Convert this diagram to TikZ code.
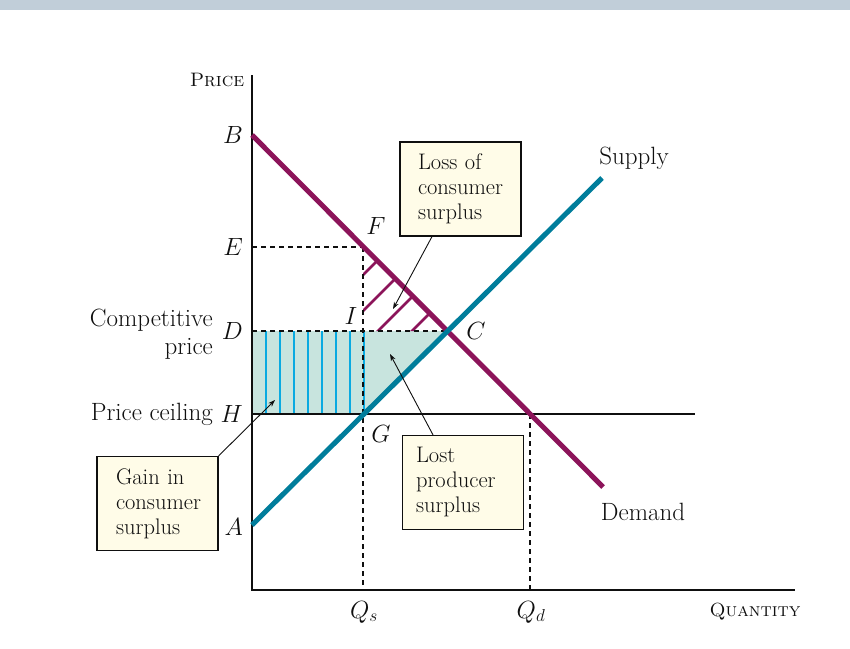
\documentclass[tikz,border=0pt]{standalone}
\usepackage{fontspec}
\usetikzlibrary{arrows.meta}
\definecolor{demandc}{RGB}{140,20,90}
\definecolor{supplyc}{RGB}{0,125,155}
\definecolor{stripec}{RGB}{10,170,225}
\definecolor{fillc}{RGB}{200,228,222}
\definecolor{boxfill}{RGB}{255,252,232}
\definecolor{bandc}{RGB}{193,206,217}
\definecolor{inkc}{RGB}{15,15,15}
\begin{document}
\begin{tikzpicture}[x=1pt,y=-1pt,
  lbl/.style={text=inkc,font=\fontsize{25}{28}\selectfont,inner sep=0pt},
  boxed/.style={draw=inkc,line width=1.2pt,fill=boxfill,minimum width=121pt,minimum height=94pt,
     align=left,inner sep=0pt,text=inkc,font=\fontsize{22.5}{25}\selectfont},
  guide/.style={dashed,dash pattern=on 5pt off 4pt,line width=1.1pt,draw=inkc},
  pointer/.style={draw=inkc,line width=0.9pt,-{Stealth[length=7pt,width=5pt]}},
  axisline/.style={draw=inkc,line width=1.3pt}]
\useasboundingbox (0,0) rectangle (850,648);
\fill[bandc] (0,0) rectangle (850,10);
% key points
\coordinate (B) at (252,135);
\coordinate (Dend) at (603,487);
\coordinate (A) at (252,525);
\coordinate (Send) at (602,178);
\coordinate (E) at (252,247);
\coordinate (F) at (363,247);
\coordinate (D) at (252,331);
\coordinate (I) at (363,331);
\coordinate (C) at (447,331);
\coordinate (H) at (252,414);
\coordinate (G) at (363,414);
\coordinate (Qs) at (363,590);
\coordinate (Qd) at (530,590);
\coordinate (Qdc) at (530,414);
\coordinate (ceilEnd) at (695,414);
\coordinate (O) at (252,590);
\coordinate (ytop) at (252,75);
\coordinate (xend) at (795,590);
% shaded areas
\fill[fillc] (D) rectangle (G);
\fill[fillc] (I) -- (C) -- (G) -- cycle;
\foreach \x in {266,280,...,364} \draw[stripec,line width=2pt] (\x,331) -- (\x,414);
% hatch in lost consumer surplus triangle
\begin{scope}
\clip (F) -- (I) -- (C) -- cycle;
\foreach \k in {638,674,709,743} \draw[demandc,line width=2.5pt] (300,\k-300) -- (500,\k-500);
\end{scope}
% guides
\draw[guide] (E) -- (F);
\draw[guide] (F) -- (Qs);
\draw[guide] (D) -- (C);
\draw[guide] (Qdc) -- (Qd);
\draw[draw=inkc,line width=1.2pt] (H) -- (ceilEnd);
% axes
\draw[axisline] (ytop) -- (O) -- (xend);
% curves
\draw[demandc,line width=5pt] (B) -- (Dend);
\draw[supplyc,line width=5pt] (A) -- (Send);
% labels
\node[lbl] (lprice) at (217,80) {\fontsize{19.5}{22}\selectfont\textsc{Price}};
\node[lbl] (lqty) at (755,612) {\fontsize{19}{22}\selectfont\textsc{Quantity}};
\node[lbl,anchor=east] (lB) at (243,135) {$B$};
\node[lbl,anchor=east] (lE) at (243,247) {$E$};
\node[lbl,anchor=east] (lD) at (243,331) {$D$};
\node[lbl,anchor=east] (lH) at (243,414) {$H$};
\node[lbl,anchor=east] (lA) at (243,527) {$A$};
\node[lbl] (lF) at (376,226) {$F$};
\node[lbl] (lI) at (351,316) {$I$};
\node[lbl] (lC) at (476,331) {$C$};
\node[lbl] (lG) at (381,434) {$G$};
\node[lbl,font=\fontsize{23}{26}\selectfont] (lQs) at (364,612) {$Q_s$};
\node[lbl,font=\fontsize{23}{26}\selectfont] (lQd) at (531,612) {$Q_d$};
\node[lbl,anchor=east,align=right] (lcomp) at (213,334) {Competitive\\price};
\node[lbl,anchor=east] (lceil) at (213,414) {Price ceiling};
\node[lbl] (lsup) at (634,158) {Supply};
\node[lbl] (ldem) at (643,512) {Demand};
% boxes
\node[boxed,text width=85pt] (loss) at (460.5,189) {Loss of\\consumer\\surplus};
\node[boxed,text width=94pt] (prod) at (463,482.5) {Lost\\producer\\surplus};
\node[boxed,text width=83pt] (gain) at (157.5,503.5) {Gain in\\consumer\\surplus};
\coordinate (lossTip) at (393,309);
\coordinate (prodTip) at (390,354);
\coordinate (gainTip) at (275,400);
\draw[pointer] ([xshift=-28.5pt]loss.south) -- (lossTip);
\draw[pointer] ([xshift=-30pt]prod.north) -- (prodTip);
\draw[pointer] (gain.north east) -- (gainTip);
\end{tikzpicture}
\end{document}
